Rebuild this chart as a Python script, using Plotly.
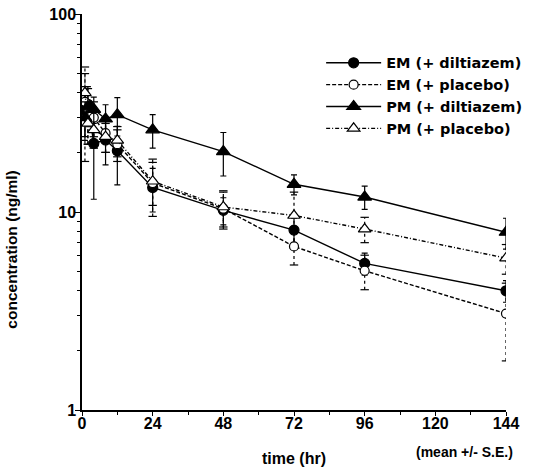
import plotly.graph_objects as go

# ---- data ----
time_hr = [1, 2, 4, 8, 12, 24, 48, 72, 96, 144]

em_dilt = [33, 35, 22.2, 23.1, 20.4, 13.3, 10.2, 8.1, 5.5, 4.0]
em_dilt_se = [10, 8, 10.6, 5.8, 6.7, 3.3, 1.6, 1.2, 0.7, 0.5]

em_plac = [36, 32, 30, 25, 22, 14.0, 10.4, 6.7, 5.05, 3.07]
em_plac_se = [18, 10, 6, 5, 4, 4.5, 2.2, 1.3, 1.0, 1.3]

pm_dilt = [30, 34, 33, 29.5, 31, 26, 20.2, 13.8, 11.9, 7.9]
pm_dilt_se = [6, 5, 5, 5.3, 6.8, 5, 5, 1.6, 1.6, 1.4]

pm_plac = [40, 28, 26, 24, 23, 14.3, 10.6, 9.6, 8.2, 5.85]
pm_plac_se = [10, 6, 5, 4, 4, 3.5, 2.2, 3.0, 1.2, 1.0]

x_ticks = [0, 24, 48, 72, 96, 120, 144]
x_minor = [12, 36, 60, 84, 108, 132]
y_ticks = [1, 10, 100]
y_minor = [2, 3, 4, 5, 6, 7, 8, 9, 20, 30, 40, 50, 60, 70, 80, 90]

FONT = "Liberation Sans"

series = [
    ("EM (+ diltiazem)", em_dilt, em_dilt_se, "solid", "circle", "black", 10, False),
    ("EM (+ placebo)", em_plac, em_plac_se, "4px,2px", "circle", "white", 9, True),
    ("PM (+ diltiazem)", pm_dilt, pm_dilt_se, "solid", "triangle-up", "black", 12, False),
    ("PM (+ placebo)", pm_plac, pm_plac_se, "4px,2px,1px,2px", "triangle-up", "white", 11, True),
]

fig = go.Figure()

# dotted error bars for placebo series (drawn first, beneath markers)
for name, vals, se, dash, sym, fill, size, dotted in series:
    if not dotted:
        continue
    ex, ey = [], []
    for t, v, s in zip(time_hr, vals, se):
        ex += [t, t, None]
        ey += [v - s, v + s, None]
    fig.add_trace(go.Scatter(
        x=ex, y=ey, mode="lines+markers", showlegend=False, hoverinfo="skip",
        line=dict(color="black", width=1.2, dash="dot"),
        marker=dict(symbol="line-ew-open", size=6, line=dict(color="black", width=1.2)),
    ))

for i, (name, vals, se, dash, sym, fill, size, dotted) in enumerate(series):
    err = dict(visible=False) if dotted else dict(
        type="data", array=se, visible=True, color="black", thickness=1.2, width=3)
    fig.add_trace(go.Scatter(
        x=time_hr, y=vals, name=name, mode="lines+markers",
        legendgroup=f"g{i}",
        line=dict(color="black", width=1.4, dash=dash),
        marker=dict(symbol=sym, size=size, color=fill,
                    line=dict(color="black", width=1.2)),
        error_y=err,
    ))

fig.update_layout(
    width=535, height=476,
    margin=dict(l=82, r=29, t=14, b=66, autoexpand=False),
    paper_bgcolor="white", plot_bgcolor="white",
    font=dict(family=FONT, color="black"),
    showlegend=True,
    legend=dict(x=0.564, y=0.917, xanchor="left", yanchor="top",
                bgcolor="rgba(0,0,0,0)", tracegroupgap=0, itemwidth=55,
                font=dict(family="DejaVu Sans", size=14.5, color="black", weight="bold")),
    xaxis=dict(range=[0, 144], tickvals=x_ticks, ticktext=[str(v) for v in x_ticks],
               showline=True, linecolor="black", linewidth=1.5,
               ticks="outside", ticklen=4, tickcolor="black", tickwidth=1.2,
               ticklabelstandoff=-6,
               minor=dict(tickvals=x_minor, ticks="outside", ticklen=3,
                          tickcolor="black", showgrid=False),
               showgrid=False, zeroline=False,
               tickfont=dict(family=FONT, size=16, color="black", weight="bold")),
    yaxis=dict(type="log", range=[0, 2], tickvals=y_ticks,
               ticktext=[str(v) for v in y_ticks],
               showline=True, linecolor="black", linewidth=1.5,
               ticks="outside", ticklen=5, tickcolor="black", tickwidth=1.2,
               ticklabelstandoff=-4,
               minor=dict(tickvals=y_minor, ticks="outside", ticklen=3,
                          tickcolor="black", showgrid=False),
               showgrid=False, zeroline=False,
               tickfont=dict(family=FONT, size=16, color="black", weight="bold")),
    annotations=[
        dict(text="time (hr)", xref="paper", yref="paper", x=0.5, y=-0.123,
             showarrow=False, xanchor="center", yanchor="middle",
             font=dict(family=FONT, size=16, color="black", weight="bold")),
        dict(text="(mean +/- S.E.)", xref="paper", yref="paper", x=0.901, y=-0.107,
             showarrow=False, xanchor="center", yanchor="middle",
             font=dict(family=FONT, size=14, color="black", weight="bold")),
        dict(text="concentration (ng/ml)", xref="paper", yref="paper", x=-0.165, y=0.405,
             showarrow=False, xanchor="center", yanchor="middle", textangle=-90,
             font=dict(family=FONT, size=15.5, color="black", weight="bold")),
    ],
)

fig.write_html(
    "out.html",
    config={"displayModeBar": False},
    post_script="document.body.style.margin='0';document.body.style.padding='0';",
)
